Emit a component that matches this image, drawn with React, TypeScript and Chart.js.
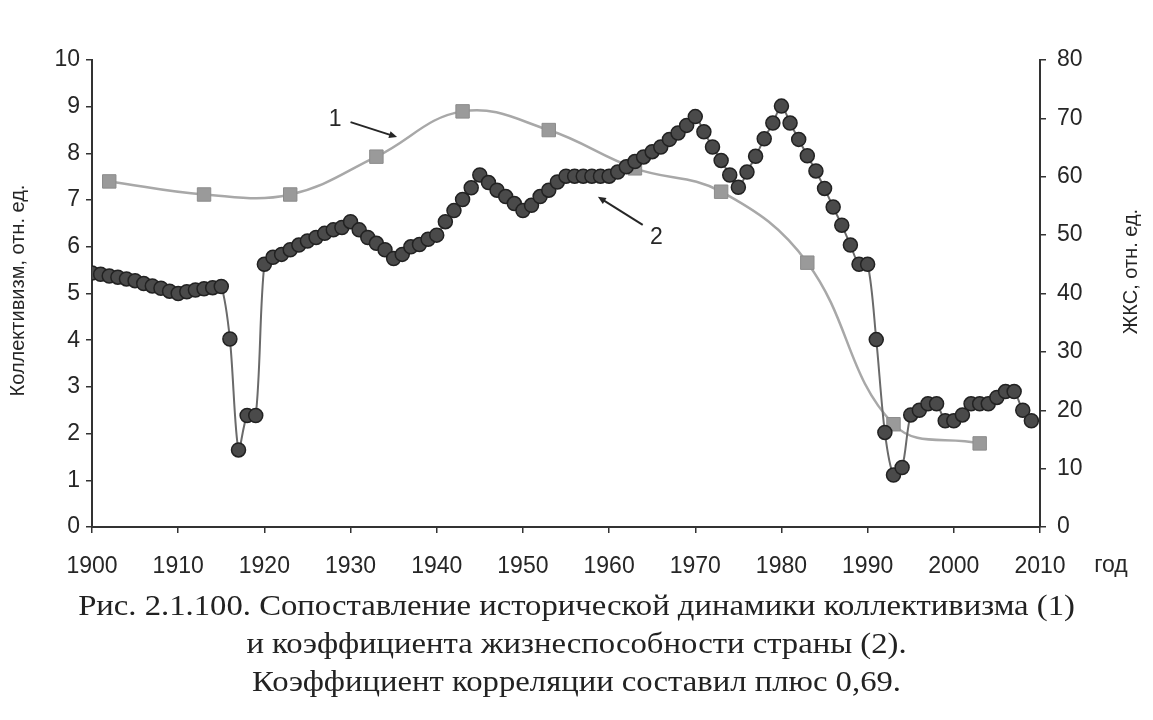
import React, { useEffect, useRef } from 'react';
import Chart from 'chart.js/auto';

// годы для ряда 2 (ЖКС), по одному значению на год
const viabilityYears: number[] = [
  1900, 1901, 1902, 1903, 1904, 1905, 1906, 1907, 1908, 1909,
  1910, 1911, 1912, 1913, 1914, 1915, 1916, 1917, 1918, 1919,
  1920, 1921, 1922, 1923, 1924, 1925, 1926, 1927, 1928, 1929,
  1930, 1931, 1932, 1933, 1934, 1935, 1936, 1937, 1938, 1939,
  1940, 1941, 1942, 1943, 1944, 1945, 1946, 1947, 1948, 1949,
  1950, 1951, 1952, 1953, 1954, 1955, 1956, 1957, 1958, 1959,
  1960, 1961, 1962, 1963, 1964, 1965, 1966, 1967, 1968, 1969,
  1970, 1971, 1972, 1973, 1974, 1975, 1976, 1977, 1978, 1979,
  1980, 1981, 1982, 1983, 1984, 1985, 1986, 1987, 1988, 1989,
  1990, 1991, 1992, 1993, 1994, 1995, 1996, 1997, 1998, 1999,
  2000, 2001, 2002, 2003, 2004, 2005, 2006, 2007, 2008, 2009,
];
const viabilityValues: number[] = [
  43.5, 43.3, 43.0, 42.8, 42.5, 42.2, 41.7, 41.3, 40.9, 40.4,
  40.0, 40.3, 40.6, 40.8, 41.0, 41.2, 32.2, 13.2, 19.1, 19.1,
  45.0, 46.2, 46.7, 47.5, 48.3, 49.0, 49.6, 50.3, 50.9, 51.3,
  52.3, 50.9, 49.6, 48.6, 47.5, 46.0, 46.7, 48.0, 48.4, 49.3,
  50.0, 52.3, 54.2, 56.1, 58.1, 60.3, 59.0, 57.7, 56.6, 55.4,
  54.2, 55.1, 56.6, 57.7, 59.1, 60.1, 60.1, 60.1, 60.1, 60.1,
  60.1, 60.8, 61.7, 62.6, 63.4, 64.3, 65.1, 66.4, 67.5, 68.8,
  70.3, 67.7, 65.1, 62.8, 60.3, 58.2, 60.8, 63.5, 66.5, 69.2,
  72.1, 69.2, 66.4, 63.6, 61.0, 58.0, 54.8, 51.7, 48.3, 45.0,
  45.0, 32.1, 16.2, 8.9, 10.2, 19.2, 20.0, 21.1, 21.1, 18.2,
  18.2, 19.2, 21.1, 21.1, 21.1, 22.2, 23.2, 23.2, 20.0, 18.2,
];

// ряд 1 — коллективизм
const collectivismYears: number[] = [1902, 1913, 1923, 1933, 1943, 1953, 1963, 1973, 1983, 1993, 2003];
const collectivismValues: number[] = [7.4, 7.12, 7.12, 7.93, 8.9, 8.5, 7.68, 7.18, 5.66, 2.2, 1.79];

const leftTitle = 'Коллективизм, отн. ед.';
const rightTitle = 'ЖКС, отн. ед.';
const xUnit = 'год';

// выноски "1" и "2": [год, значение по левой оси]
const calloutLabels = ['1', '2'];
const calloutText: number[][] = [[1928.2, 8.72], [1965.5, 6.2]];
const calloutFrom: number[][] = [[1930.0, 8.67], [1963.9, 6.47]];
const calloutTo: number[][] = [[1935.4, 8.35], [1958.7, 7.07]];

const captionLines = [
  'Рис. 2.1.100. Сопоставление исторической динамики коллективизма (1)',
  'и коэффициента жизнеспособности страны (2).',
  'Коэффициент корреляции составил плюс 0,69.',
];

const sans = '"Liberation Sans", Arial, sans-serif';
const ink = '#262626';

const overlay = {
  id: 'overlay',
  afterDraw(chart: any) {
    const { ctx, chartArea, scales } = chart;
    const x = scales.x;
    const y = scales.yL;
    ctx.save();
    ctx.fillStyle = ink;
    ctx.strokeStyle = ink;
    ctx.textAlign = 'center';
    ctx.textBaseline = 'middle';

    // подписи осей (обе читаются снизу вверх)
    ctx.font = '20px ' + sans;
    ctx.save();
    ctx.translate(18, (chartArea.top + chartArea.bottom) / 2 - 3);
    ctx.rotate(-Math.PI / 2);
    ctx.fillText(leftTitle, 0, 0);
    ctx.restore();
    ctx.save();
    ctx.translate(chartArea.right + 91, (chartArea.top + chartArea.bottom) / 2 - 22);
    ctx.rotate(-Math.PI / 2);
    ctx.fillText(rightTitle, 0, 0);
    ctx.restore();

    ctx.font = '23px ' + sans;
    ctx.fillText(xUnit, chartArea.right + 71, chartArea.bottom + 39);

    // выноски
    calloutLabels.forEach((lab, i) => {
      ctx.font = '23px ' + sans;
      ctx.fillText(lab, x.getPixelForValue(calloutText[i][0]), y.getPixelForValue(calloutText[i][1]));
      const x1 = x.getPixelForValue(calloutFrom[i][0]);
      const y1 = y.getPixelForValue(calloutFrom[i][1]);
      const x2 = x.getPixelForValue(calloutTo[i][0]);
      const y2 = y.getPixelForValue(calloutTo[i][1]);
      const a = Math.atan2(y2 - y1, x2 - x1);
      ctx.lineWidth = 2;
      ctx.beginPath();
      ctx.moveTo(x1, y1);
      ctx.lineTo(x2 - 4 * Math.cos(a), y2 - 4 * Math.sin(a));
      ctx.stroke();
      ctx.beginPath();
      ctx.moveTo(x2, y2);
      ctx.lineTo(x2 - 8 * Math.cos(a) + 3.5 * Math.sin(a), y2 - 8 * Math.sin(a) - 3.5 * Math.cos(a));
      ctx.lineTo(x2 - 8 * Math.cos(a) - 3.5 * Math.sin(a), y2 - 8 * Math.sin(a) + 3.5 * Math.cos(a));
      ctx.closePath();
      ctx.fill();
    });
    ctx.restore();
  },
};

const App = () => {
  const canvasRef = useRef<HTMLCanvasElement>(null);

  useEffect(() => {
    const ctx: any = canvasRef.current && canvasRef.current.getContext('2d');
    const tickFont = { size: 23, family: sans };
    const axisGrid = { display: true, drawOnChartArea: false, drawTicks: true, tickLength: 6, color: '#333', lineWidth: 1.5 };
    const axisBorder = { display: true, color: '#333', width: 2 };

    const config: any = {
      type: 'line',
      data: {
        datasets: [
          {
            label: 'ЖКС',
            data: viabilityYears.map((yr, i) => ({ x: yr, y: viabilityValues[i] })),
            yAxisID: 'yR',
            borderColor: '#6a6a6a',
            borderWidth: 2,
            tension: 0.3,
            pointStyle: 'circle',
            pointRadius: 7,
            pointBackgroundColor: '#4a4a4a',
            pointBorderColor: '#222',
            pointBorderWidth: 1.5,
            order: 0,
          },
          {
            label: 'Коллективизм',
            data: collectivismYears.map((yr, i) => ({ x: yr, y: collectivismValues[i] })),
            yAxisID: 'yL',
            borderColor: '#a8a8a8',
            borderWidth: 2.5,
            tension: 0.4,
            pointStyle: 'rect',
            pointRadius: 9.5,
            pointBackgroundColor: '#9a9a9a',
            pointBorderColor: '#8c8c8c',
            pointBorderWidth: 1,
            order: 1,
          },
        ],
      },
      options: {
        responsive: false,
        animation: false,
        layout: { padding: { top: 60, left: 0, right: 0, bottom: 0 } },
        plugins: { legend: { display: false }, tooltip: { enabled: false } },
        scales: {
          x: {
            type: 'linear',
            min: 1900,
            max: 2010,
            ticks: { stepSize: 10, color: ink, font: tickFont, padding: 20, maxRotation: 0, callback: (v: any) => String(v) },
            grid: axisGrid,
            border: axisBorder,
            afterFit: (s: any) => { s.height = 63; },
          },
          yL: {
            position: 'left',
            min: 0,
            max: 10,
            ticks: { stepSize: 1, color: ink, font: tickFont, padding: 6 },
            grid: axisGrid,
            border: axisBorder,
            afterFit: (s: any) => { s.width = 92; },
          },
          yR: {
            position: 'right',
            min: 0,
            max: 80,
            ticks: { stepSize: 10, color: ink, font: tickFont, padding: 11 },
            grid: axisGrid,
            border: axisBorder,
            afterFit: (s: any) => { s.width = 113; },
          },
        },
      },
      plugins: [overlay],
    };

    const chart = new Chart(ctx, config);
    return () => {
      chart.destroy();
    };
  }, []);

  return (
    <div style={{ position: 'absolute', left: 0, top: 0, width: 1153, height: 720, background: '#fff' }}>
      <canvas ref={canvasRef} width={1153} height={590} style={{ display: 'block', width: 1153, height: 590 }}></canvas>
      <div
        style={{
          position: 'absolute',
          top: 586,
          left: 0,
          width: 1153,
          textAlign: 'center',
          fontFamily: '"Liberation Serif", "Times New Roman", serif',
          fontSize: 30,
          lineHeight: '38px',
          color: '#222',
          transform: 'scaleX(1.09)',
          transformOrigin: '576px 0',
        }}
      >
        {captionLines.map((line, i) => (
          <div key={i}>{line}</div>
        ))}
      </div>
    </div>
  );
};

export default App;
